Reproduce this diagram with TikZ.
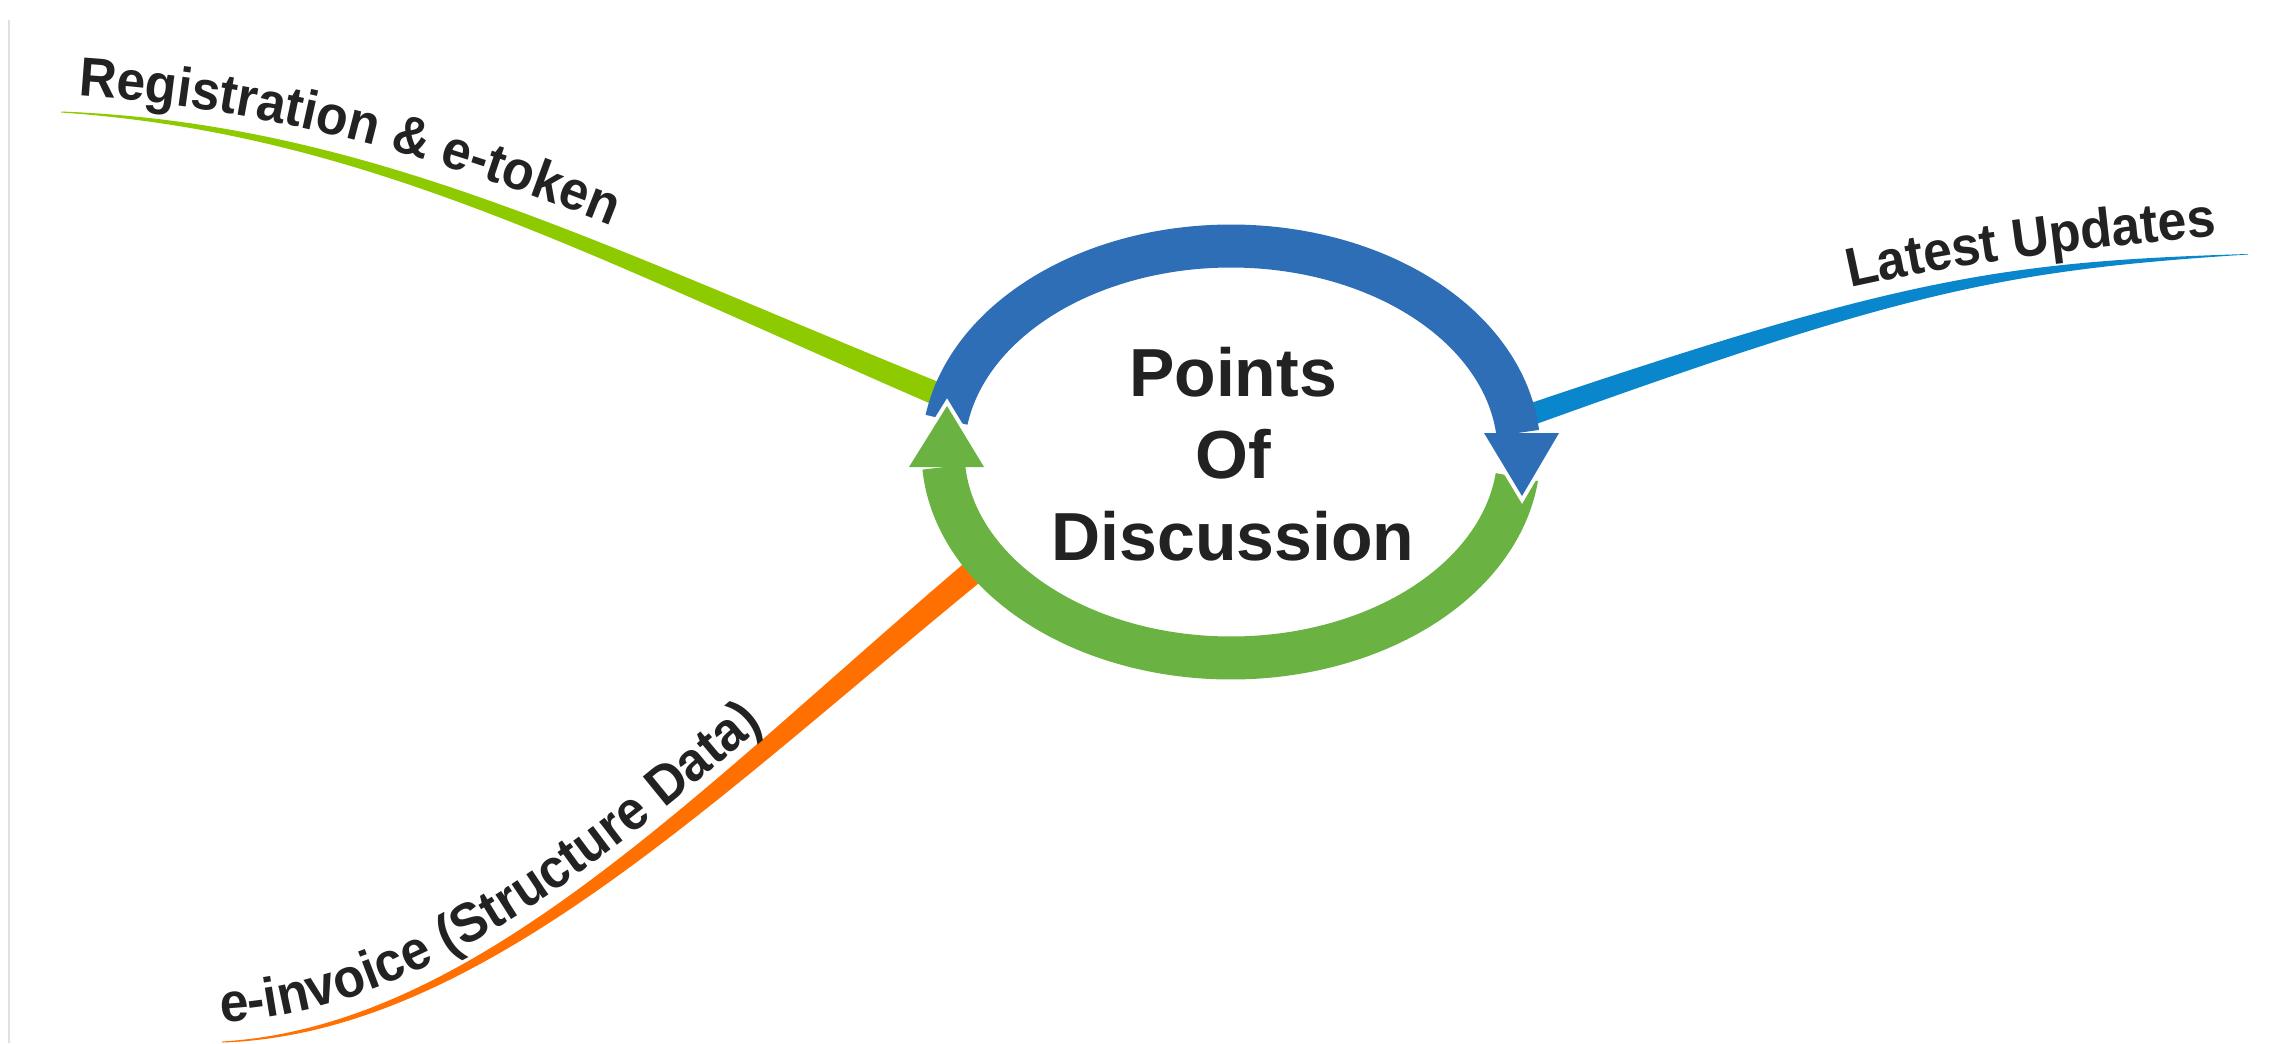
\documentclass[tikz,border=0pt]{standalone}
\usepackage{fontspec}
\setmainfont{Liberation Sans}
\newfontfamily\lblfont[FakeStretch=0.94]{Liberation Sans}
\usetikzlibrary{decorations.text}
\definecolor{ringblue}{RGB}{45,110,182}
\definecolor{ringgreen}{RGB}{106,179,67}
\definecolor{brgreen}{RGB}{141,203,0}
\definecolor{brblue}{RGB}{10,134,204}
\definecolor{brorange}{RGB}{255,112,0}
\definecolor{txt}{RGB}{34,34,34}
\begin{document}
\begin{tikzpicture}[x=1bp,y=-1bp,
  ringarc/.style={line width=43bp},
  gapline/.style={draw=white,line width=8bp,line join=miter,miter limit=10},
  centertext/.style={font=\fontsize{68bp}{82bp}\selectfont\bfseries,text=txt,align=center,inner sep=0pt}]
\useasboundingbox (0,0) rectangle (2272,1043);
\fill[white] (0,0) rectangle (2272,1043);
\draw[black!12,line width=1.5bp] (9,20) -- (9,1043);

% branch ends
\coordinate (gtip) at (61,112);
\coordinate (btip) at (2248,254);
\coordinate (otip) at (222,1042);

% tapered branches
\fill[brgreen] (gtip) ++(0,-0.5) .. controls (361.3,123) and (587.7,239.5) .. (939.5,382.4)
  -- (930.5,403.6) .. controls (582.3,252.5) and (360.7,133) .. (61,112.5) -- cycle;
\fill[brblue] (1511.4,409.6) .. controls (1897.7,278.4) and (1999.8,261.5) .. (btip)
  -- (2248,254.5) .. controls (2000.2,270.5) and (1902.3,291.6) .. (1518.6,430.4) -- cycle;
\fill[brorange] (otip) ++(0,-0.5) .. controls (479.8,1026) and (704.3,783.1) .. (977,552.4)
  -- (993,571.6) .. controls (715.7,796.9) and (480.2,1034) .. (222,1042.5) -- cycle;

% ring
\draw[ringblue,ringarc] plot[domain=-171:-5.3,samples=150] ({1231+288*cos(\x)},{452+206*sin(\x)});
\draw[ringgreen,ringarc] plot[domain=7:175.8,samples=150] ({1231+288*cos(\x)},{452+206*sin(\x)});
% blue arrow head
\draw[gapline] (1484,433) -- (1522,496) -- (1559,433);
\fill[ringblue] (1484,433) -- (1522,496) -- (1559,433) -- cycle;
% green arrow head
\draw[gapline] (909,467) -- (947,406) -- (984,467);
\fill[ringgreen] (909,467) -- (947,406) -- (984,467) -- cycle;

\node[centertext] (center) at (1233,454) {Points\\Of\\Discussion};

% labels along the branches
\path[decorate,decoration={text along path,text align=left,text color=txt,
  text={|\lblfont\fontsize{55bp}{64bp}\selectfont\bfseries|Registration {\&} e-token}}]
  (78,96) .. controls (330,112) and (540,195) .. (670,250);
\path[decorate,decoration={text along path,text align=left,text color=txt,
  text={|\lblfont\fontsize{55bp}{64bp}\selectfont\bfseries|Latest Updates}}]
  (1850,288) .. controls (1980,259) and (2120,244) .. (2270,232);
\path[decorate,decoration={text along path,text align=left,text color=txt,
  text={|\lblfont\fontsize{55bp}{64bp}\selectfont\bfseries|e-invoice (Structure Data)}}]
  (221,1022) .. controls (479,1010) and (697,775) .. (972,547);
\end{tikzpicture}
\end{document}
